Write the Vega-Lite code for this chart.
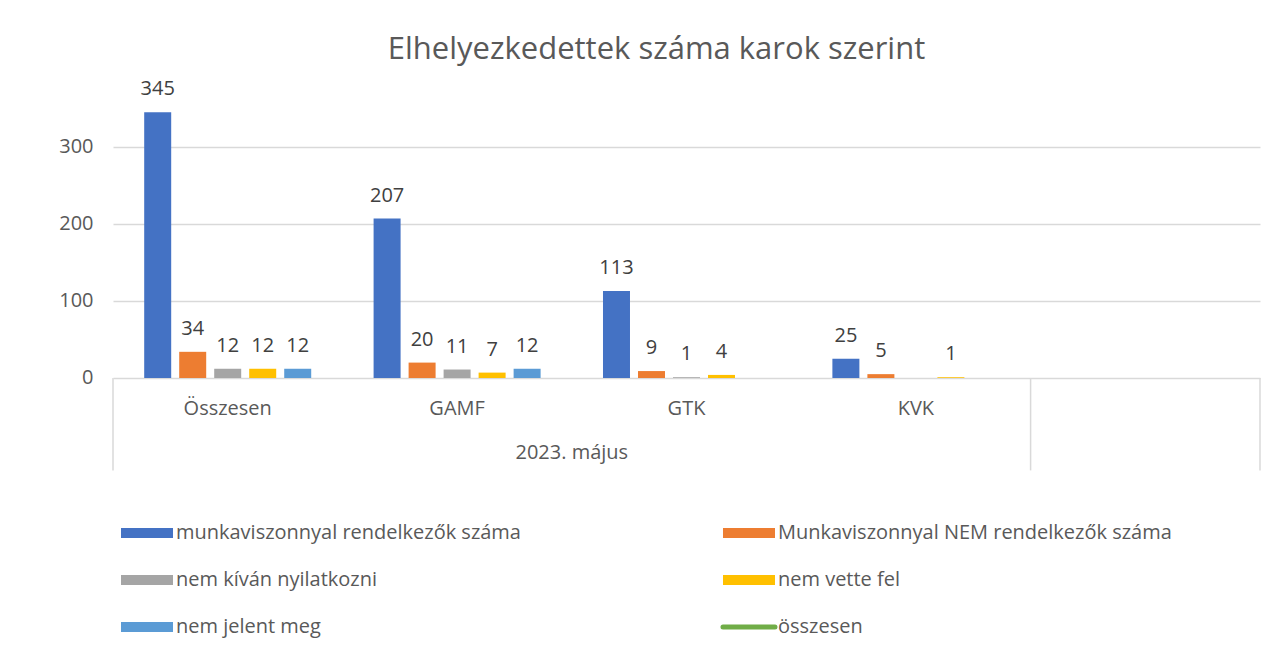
{
  "$schema": "https://vega.github.io/schema/vega-lite/v6.json",
  "width": 1147,
  "height": 400.4,
  "autosize": {"type": "none"},
  "padding": {"left": 113, "top": 70, "right": 25, "bottom": 190},
  "background": "white",
  "config": {
    "view": {"stroke": null},
    "font": "Open Sans",
    "text": {"font": "Open Sans", "color": "#595959"}
  },
  "title": {
    "text": "Elhelyezkedettek száma karok szerint",
    "font": "Open Sans",
    "fontSize": 31,
    "fontWeight": "normal",
    "color": "#595959",
    "anchor": "middle",
    "dx": -30,
    "offset": -20,
    "baseline": "alphabetic"
  },
  "datasets": {
    "bars": [
      {"cat": "Összesen", "series": "munkaviszonnyal rendelkezők száma", "value": 345},
      {"cat": "Összesen", "series": "Munkaviszonnyal NEM rendelkezők száma", "value": 34},
      {"cat": "Összesen", "series": "nem kíván nyilatkozni", "value": 12},
      {"cat": "Összesen", "series": "nem vette fel", "value": 12},
      {"cat": "Összesen", "series": "nem jelent meg", "value": 12},
      {"cat": "GAMF", "series": "munkaviszonnyal rendelkezők száma", "value": 207},
      {"cat": "GAMF", "series": "Munkaviszonnyal NEM rendelkezők száma", "value": 20},
      {"cat": "GAMF", "series": "nem kíván nyilatkozni", "value": 11},
      {"cat": "GAMF", "series": "nem vette fel", "value": 7},
      {"cat": "GAMF", "series": "nem jelent meg", "value": 12},
      {"cat": "GTK", "series": "munkaviszonnyal rendelkezők száma", "value": 113},
      {"cat": "GTK", "series": "Munkaviszonnyal NEM rendelkezők száma", "value": 9},
      {"cat": "GTK", "series": "nem kíván nyilatkozni", "value": 1},
      {"cat": "GTK", "series": "nem vette fel", "value": 4},
      {"cat": "KVK", "series": "munkaviszonnyal rendelkezők száma", "value": 25},
      {"cat": "KVK", "series": "Munkaviszonnyal NEM rendelkezők száma", "value": 5},
      {"cat": "KVK", "series": "nem vette fel", "value": 1}
    ],
    "cats": [
      {"cat": "Összesen"},
      {"cat": "GAMF"},
      {"cat": "GTK"},
      {"cat": "KVK"}
    ],
    "leftEdges": [
      {"cat": "Összesen"},
      {"cat": " "}
    ],
    "rightEdges": [
      {"cat": " "}
    ],
    "group": [
      {"cat": "GTK", "label": "2023. május"}
    ]
  },
  "layer": [
    {
      "data": {"name": "bars"},
      "mark": {"type": "bar"},
      "encoding": {
        "x": {
          "field": "cat",
          "type": "nominal",
          "scale": {"domain": ["Összesen", "GAMF", "GTK", "KVK", " "], "paddingInner": 0, "paddingOuter": 0},
          "axis": null
        },
        "xOffset": {
          "field": "series",
          "type": "nominal",
          "scale": {
            "domain": ["munkaviszonnyal rendelkezők száma", "Munkaviszonnyal NEM rendelkezők száma", "nem kíván nyilatkozni", "nem vette fel", "nem jelent meg"],
            "paddingInner": 0.2286,
            "paddingOuter": 0.891
          }
        },
        "y": {
          "field": "value",
          "type": "quantitative",
          "scale": {"domain": [-120, 400], "nice": false, "zero": false},
          "axis": {
            "values": [0, 100, 200, 300],
            "title": null,
            "domain": false,
            "ticks": false,
            "grid": true,
            "gridColor": "#d9d9d9",
            "gridWidth": 1.5,
            "labelFont": "Open Sans",
            "labelFontSize": 20,
            "labelColor": "#595959",
            "labelPadding": 20
          }
        },
        "color": {
          "field": "series",
          "type": "nominal",
          "scale": {
            "domain": ["munkaviszonnyal rendelkezők száma", "Munkaviszonnyal NEM rendelkezők száma", "nem kíván nyilatkozni", "nem vette fel", "nem jelent meg", "összesen"],
            "range": ["#4472C4", "#ED7D31", "#A5A5A5", "#FFC000", "#5B9BD5", "#70AD47"]
          },
          "legend": {
            "orient": "none",
            "legendX": 24,
            "legendY": 453,
            "direction": "horizontal",
            "columns": 2,
            "title": null,
            "padding": 0,
            "symbolType": "M-1,-0.19H1V0.19H-1Z",
            "symbolSize": 2704,
            "symbolStrokeWidth": 0,
            "labelFont": "Open Sans",
            "labelFontSize": 20,
            "labelColor": "#595959",
            "labelOffset": 19,
            "labelLimit": 0,
            "rowPadding": 27,
            "columnPadding": 191,
            "encode": {
              "symbols": {
                "update": {
                  "shape": {"signal": "datum.value === 'összesen' ? 'M-1,0H1' : 'M-1,-0.19H1V0.19H-1Z'"},
                  "stroke": {"signal": "datum.value === 'összesen' ? '#70AD47' : 'transparent'"},
                  "strokeWidth": {"signal": "datum.value === 'összesen' ? 5 : 0"},
                  "strokeCap": {"value": "round"}
                }
              }
            }
          }
        }
      }
    },
    {
      "data": {"name": "bars"},
      "mark": {"type": "text", "baseline": "alphabetic", "dy": -17, "fontSize": 20, "color": "#404040"},
      "encoding": {
        "x": {"field": "cat", "type": "nominal"},
        "xOffset": {"field": "series", "type": "nominal"},
        "y": {"field": "value", "type": "quantitative"},
        "text": {"field": "value", "type": "quantitative"}
      }
    },
    {
      "data": {"name": "leftEdges"},
      "mark": {"type": "rule", "color": "#d9d9d9", "strokeWidth": 1.5},
      "encoding": {
        "x": {"field": "cat", "type": "nominal", "bandPosition": 0},
        "y": {"datum": 0},
        "y2": {"datum": -120}
      }
    },
    {
      "data": {"name": "rightEdges"},
      "mark": {"type": "rule", "color": "#d9d9d9", "strokeWidth": 1.5},
      "encoding": {
        "x": {"field": "cat", "type": "nominal", "bandPosition": 1},
        "y": {"datum": 0},
        "y2": {"datum": -120}
      }
    },
    {
      "data": {"name": "cats"},
      "mark": {"type": "text", "baseline": "middle", "fontSize": 20, "color": "#595959"},
      "encoding": {
        "x": {"field": "cat", "type": "nominal"},
        "y": {"datum": -40},
        "text": {"field": "cat", "type": "nominal"}
      }
    },
    {
      "data": {"name": "group"},
      "mark": {"type": "text", "baseline": "middle", "fontSize": 20, "color": "#595959"},
      "encoding": {
        "x": {"field": "cat", "type": "nominal", "bandPosition": 0},
        "y": {"datum": -98},
        "text": {"field": "label", "type": "nominal"}
      }
    }
  ]
}
